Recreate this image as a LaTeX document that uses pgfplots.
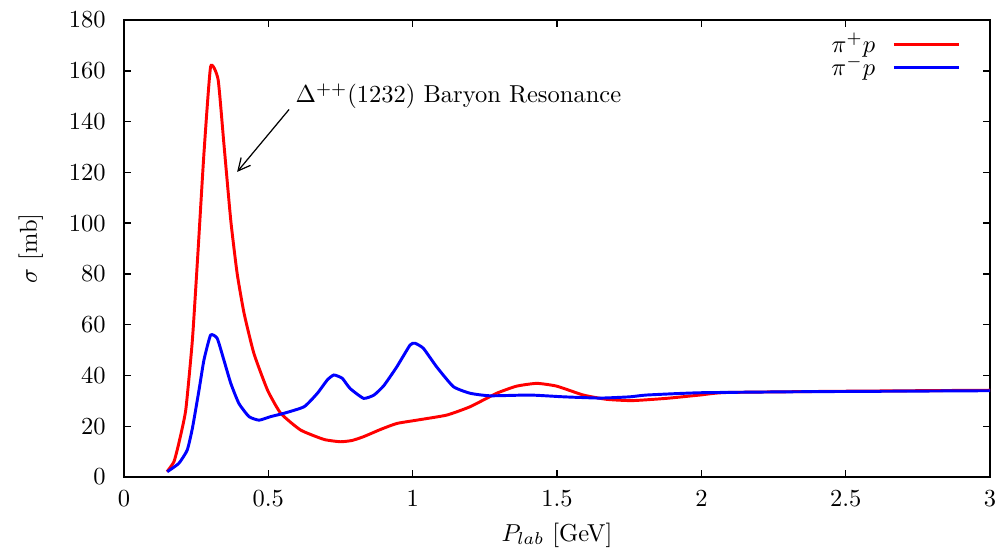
\documentclass[border=0pt]{standalone}
\usepackage{pgfplots}
\pgfplotsset{compat=1.18}
\usetikzlibrary{arrows.meta}
\begin{document}
\begin{tikzpicture}
\begin{axis}[
  scale only axis,
  width=353.5pt, height=186.5pt,
  xmin=0, xmax=3, ymin=0, ymax=180,
  xtick={0,0.5,...,3}, ytick={0,20,...,180},
  xticklabels={0,0.5,1,1.5,2,2.5,3},
  tick align=inside, major tick length=3pt,
  axis line style={line width=0.6pt},
  every tick/.style={black, line width=0.6pt},
  yticklabel style={xshift=-4pt},
  xticklabel style={yshift=-2pt},
  every axis y label/.style={at={(rel axis cs:0,0.5)}, xshift=-38pt, rotate=90, anchor=center},
  every axis x label/.style={at={(rel axis cs:0.5,0)}, yshift=-23.7pt, anchor=center},
  xlabel={$P_{lab}$ [GeV]},
  ylabel={$\sigma$ [mb]},
  legend style={draw=none, fill=none, at={(rel axis cs:1,1)}, anchor=north east,
    xshift=-9pt, yshift=-1pt, row sep=-4pt},
  legend plot pos=right,
  legend cell align=right,
  legend image code/.code={\path (0pt,0pt); \draw[#1] (5pt,0pt) -- (31.5pt,0pt);},
]
\addplot[red, line width=1.2pt, smooth, tension=0.3] coordinates {
(0.149,2.1) (0.173,6.0) (0.19,13.3) (0.214,26.4) (0.237,54) (0.256,88)
(0.277,127.5) (0.300,161.6) (0.326,156.6) (0.346,131.4) (0.37,101)
(0.392,80.2) (0.416,64.5) (0.45,48.7) (0.497,34.3) (0.543,25.1)
(0.612,18.5) (0.693,14.8) (0.75,13.9) (0.79,14.4) (0.83,15.9) (0.89,18.8)
(0.945,21.1) (1.014,22.4) (1.118,24.4) (1.199,27.7) (1.291,33) (1.36,35.8)
(1.43,36.9) (1.499,35.8) (1.591,32.3) (1.672,30.6) (1.76,30.1) (1.88,31)
(1.995,32.3) (2.088,33.3) (2.5,33.8) (3,34.2)
};
\addlegendentry{$\pi^{+}p$}
\addplot[blue, line width=1.2pt, smooth, tension=0.3] coordinates {
(0.15,2.1) (0.19,5.4) (0.219,10.6) (0.237,19.2) (0.26,34.3) (0.277,46.1)
(0.3,55.9) (0.323,54.6) (0.346,46.1) (0.37,36.9) (0.398,29) (0.433,23.8)
(0.468,22.4) (0.508,23.8) (0.554,25.1) (0.624,27.7) (0.67,33) (0.704,38.2)
(0.727,40.2) (0.756,38.9) (0.783,34.9) (0.83,31) (0.866,32.3) (0.9,36)
(0.945,43.4) (0.991,52) (1.008,52.7) (1.037,50.7) (1.083,43.4) (1.141,35.6)
(1.199,33) (1.268,32) (1.406,32.3) (1.522,31.6) (1.649,31.1) (1.753,31.6)
(1.81,32.3) (1.995,33.2) (2.34,33.6) (3,34)
};
\addlegendentry{$\pi^{-}p$}
\draw[-{Straight Barb[length=5pt,width=5pt]}, line width=0.5pt]
  (axis cs:0.572,144.8) -- (axis cs:0.392,120.2);
\node[anchor=west, inner sep=0pt] at (axis cs:0.593,150) {$\Delta^{++}(1232)$ Baryon Resonance};
\end{axis}
\pgfresetboundingbox
\path ([shift={(-50.6pt,-31.8pt)}]current axis.south west) rectangle ([shift={(6.5pt,8.2pt)}]current axis.north east);
\end{tikzpicture}
\end{document}
